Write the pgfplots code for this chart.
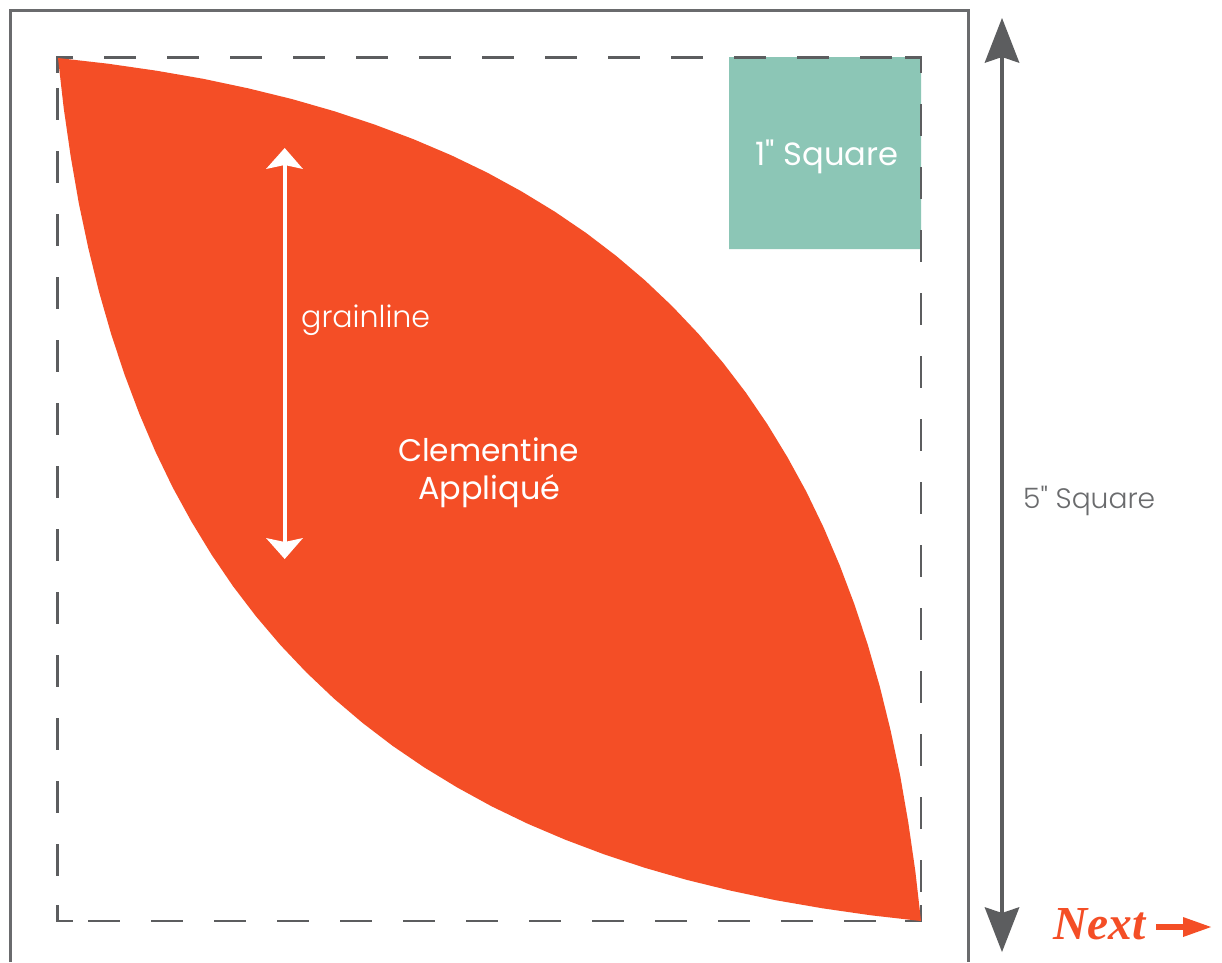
\documentclass[border=0pt]{standalone}
\usepackage{fontspec}
\usepackage{pgfplots}
\pgfplotsset{compat=1.18}
\setmainfont{Poppins}[Ligatures=TeXOff]
\newfontfamily\lightfont{Poppins Light}[Ligatures=TeXOff]
\newfontfamily\nextfont{Liberation Serif}
\definecolor{frame}{HTML}{6A6B6D}
\definecolor{dark}{HTML}{5C5D5F}
\definecolor{leaf}{HTML}{F44E26}
\definecolor{teal}{HTML}{8CC6B6}
\begin{document}
\begin{tikzpicture}
\path[use as bounding box,fill=white] (0,0) rectangle (1222pt,962pt);
\begin{axis}[
    scale only axis,
    width=1222pt, height=962pt,
    xmin=0, xmax=1222, ymin=0, ymax=962,
    y dir=reverse,
    hide axis,
    clip=false,
    every axis plot/.append style={no markers},
    dashline/.style={draw=dark, line width=2.8pt, dash pattern=on 31.5pt off 31.5pt},
    corner/.style={draw=dark, line width=2.8pt},
]
% outer frame, open at the bottom
\addplot[draw=frame, line width=3pt] coordinates {(10.5,962) (10.5,10.5) (968,10.5) (968,962)};
% 1 inch square
\addplot[fill=teal, draw=none] coordinates {(729,57) (921,57) (921,249) (729,249) (729,57)};
% dashed seam
\addplot[dashline] coordinates {(104,57.3) (892,57.3)};
\addplot[dashline] coordinates {(921,104) (921,892)};
\addplot[dashline] coordinates {(88,921) (876,921)};
\addplot[dashline] coordinates {(57.3,88) (57.3,876)};
\addplot[corner] coordinates {(73,57.3) (57.3,57.3) (57.3,73)};
\addplot[corner] coordinates {(905,57.3) (921,57.3) (921,73)};
\addplot[corner] coordinates {(921,905) (921,921) (905,921)};
\addplot[corner] coordinates {(57.3,905) (57.3,921) (73,921)};
% applique shape: upper edge, then lower edge back
\addplot[fill=leaf, draw=none] coordinates {
(58,58) (108,63.7) (156.4,70.7) (203.2,78.8) (248.5,88.4) (292.1,99.1) (334.2,111.2)
(374.7,124.6) (413.7,139.3) (451.3,155.3) (487.2,172.6) (521.7,191.5) (554.7,211.6)
(586.3,233.1) (616.3,256) (645,280.4) (672.1,306.1) (698.6,334) (723,362.7) (745.9,392.7)
(767.4,424.3) (787.5,457.3) (806.4,491.8) (823.7,527.7) (839.7,565.3) (854.4,604.3)
(867.8,644.8) (879.9,686.9) (890.6,730.5) (900.2,775.8) (908.3,822.6) (915.3,871) (921,921)
(871,915.3) (822.6,908.3) (775.8,900.2) (730.5,890.6) (686.9,879.9) (644.8,867.8)
(604.3,854.4) (565.3,839.7) (527.7,823.7) (491.8,806.4) (457.3,787.5) (424.3,767.4)
(392.7,745.9) (362.7,723) (334,698.6) (306.1,672.1) (280.4,645) (256,616.3) (233.1,586.3)
(211.6,554.7) (191.5,521.7) (172.6,487.2) (155.3,451.3) (139.3,413.7) (124.6,374.7)
(111.2,334.2) (99.1,292.1) (88.4,248.5) (78.8,203.2) (70.7,156.4) (63.7,108) (58,58)};
% grainline arrow
\addplot[draw=white, line width=4pt] coordinates {(284.7,160) (284.7,548)};
\addplot[fill=white, draw=none] coordinates {(284.7,148) (303,169) (284.7,165) (266,169) (284.7,148)};
\addplot[fill=white, draw=none] coordinates {(284.7,559) (303,538) (284.7,542) (266,538) (284.7,559)};
% 5 inch arrow
\addplot[draw=dark, line width=4pt] coordinates {(1002,50) (1002,925)};
\addplot[fill=dark, draw=none] coordinates {(1002,18) (1019.5,63) (1002,57) (984.5,63) (1002,18)};
\addplot[fill=dark, draw=none] coordinates {(1002,952) (1019.5,907) (1002,913) (984.5,907) (1002,952)};
% next arrow
\addplot[draw=leaf, line width=5.5pt] coordinates {(1156,927) (1190,927)};
\addplot[fill=leaf, draw=none] coordinates {(1183,917) (1211,927) (1183,937) (1183,917)};
% labels
\node[anchor=base west, inner sep=0, text=white] at (axis cs:755,165) {\resizebox{143pt}{!}{\fontsize{30}{30}\selectfont 1" Square}};
\node[anchor=base west, inner sep=0, text=white] at (axis cs:301,327) {\resizebox{129pt}{!}{\lightfont\fontsize{30}{30}\selectfont grainline}};
\node[anchor=base west, inner sep=0, text=white] at (axis cs:398,461) {\resizebox{181pt}{!}{\fontsize{30}{30}\selectfont Clementine}};
\node[anchor=base west, inner sep=0, text=white] at (axis cs:418,499) {\resizebox{142pt}{!}{\fontsize{30}{30}\selectfont Appliqué}};
\node[anchor=base west, inner sep=0, text=frame] at (axis cs:1023,508) {\resizebox{132pt}{!}{\lightfont\fontsize{30}{30}\selectfont 5" Square}};
\node[anchor=base west, inner sep=0, text=leaf] at (axis cs:1053,939) {\resizebox{92pt}{!}{\nextfont\bfseries\itshape\fontsize{30}{30}\selectfont Next}};
\end{axis}
\end{tikzpicture}
\end{document}
